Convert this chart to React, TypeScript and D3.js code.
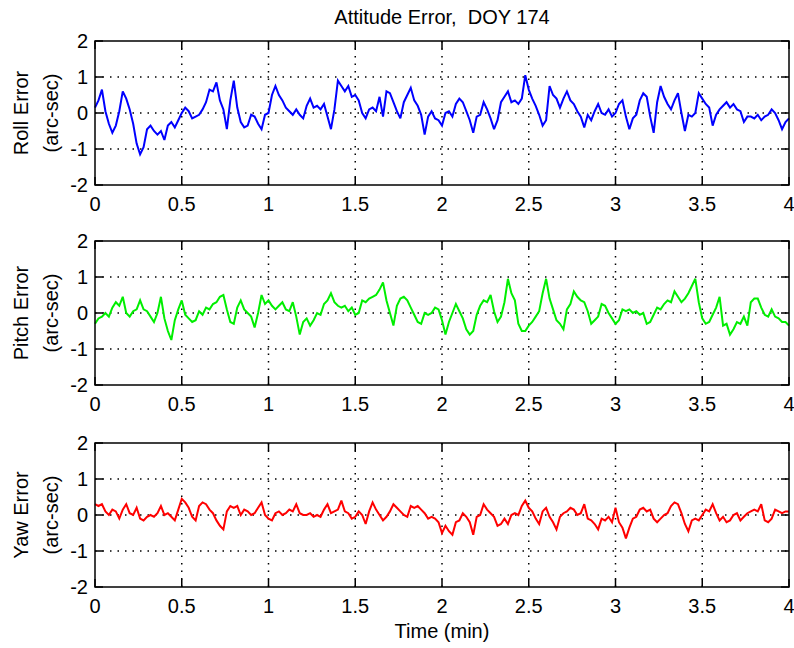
import * as React from 'react';
import * as d3 from 'd3';

// sample spacing of the recorded attitude errors (minutes)
const SAMPLE_STEP = 0.02;

const rollError = [
  0.15, 0.35, 0.65, 0.05, -0.3, -0.55, -0.35, 0.05, 0.6, 0.4,
  0.1, -0.3, -0.85, -1.15, -0.95, -0.45, -0.35, -0.5, -0.6, -0.5,
  -0.75, -0.35, -0.25, -0.4, -0.2, 0.0, 0.15, 0.05, -0.15, -0.1,
  -0.05, 0.1, 0.3, 0.65, 0.6, 0.85, 0.35, 0.1, -0.45, 0.35,
  0.9, 0.15, -0.25, -0.4, -0.35, -0.05, -0.1, -0.3, -0.45, -0.05,
  0.0, 0.5, 0.75, 0.5, 0.35, 0.15, 0.05, -0.05, 0.1, -0.05,
  -0.15, 0.2, 0.4, 0.15, 0.2, 0.1, 0.25, -0.1, -0.45, 0.1,
  0.9, 0.75, 0.6, 0.75, 0.45, 0.5, 0.35, 0.0, -0.15, 0.1,
  0.15, 0.05, 0.45, -0.1, 0.6, 0.55, 0.3, 0.05, -0.15, 0.3,
  0.5, 0.7, 0.35, 0.2, -0.05, -0.6, -0.1, 0.05, -0.15, -0.2,
  -0.35, 0.0, 0.05, -0.1, 0.25, 0.4, 0.3, 0.05, -0.2, -0.55,
  -0.1, -0.05, 0.3, 0.1, -0.15, -0.45, -0.2, 0.3, 0.45, 0.6,
  0.3, 0.35, 0.25, 0.4, 1.05, 0.65, 0.4, 0.2, -0.05, -0.35,
  -0.2, 0.75, 0.5, 0.4, 0.15, 0.4, 0.6, 0.35, 0.25, 0.05,
  -0.1, -0.4, -0.05, -0.2, 0.05, 0.25, 0.0, -0.05, 0.1, -0.1,
  0.0, 0.25, 0.35, -0.1, -0.45, -0.15, -0.05, 0.35, 0.55, 0.45,
  -0.1, -0.55, 0.3, 0.75, 0.45, 0.25, 0.1, 0.35, 0.55, 0.0,
  -0.5, -0.05, -0.1, 0.0, 0.55, 0.4, 0.25, 0.15, -0.35, -0.05,
  0.1, 0.2, 0.3, 0.15, 0.25, 0.1, 0.05, -0.25, -0.1, -0.1,
  -0.15, -0.05, -0.2, -0.1, -0.05, 0.1, 0.0, -0.2, -0.45, -0.25,
  -0.15,
];

const pitchError = [
  -0.3, -0.15, -0.1, 0.0, -0.1, 0.15, 0.3, 0.2, 0.45, 0.0,
  -0.1, 0.05, 0.1, 0.35, 0.1, 0.05, -0.1, -0.25, 0.0, 0.45,
  -0.15, -0.5, -0.75, -0.2, 0.1, 0.35, -0.05, -0.15, -0.25, -0.2,
  0.05, -0.05, 0.15, 0.1, 0.25, 0.3, 0.45, 0.5, 0.1, -0.25,
  -0.3, 0.15, 0.35, 0.1, 0.0, -0.1, -0.4, 0.0, 0.5, 0.25,
  0.35, 0.2, 0.1, 0.2, 0.3, 0.1, 0.05, 0.3, -0.1, -0.6,
  -0.25, -0.15, -0.35, -0.2, 0.0, -0.05, 0.25, 0.35, 0.55, 0.3,
  0.2, 0.15, 0.2, 0.05, 0.15, -0.05, 0.0, 0.35, 0.3, 0.4,
  0.45, 0.5, 0.65, 0.85, 0.35, 0.0, -0.35, 0.2, 0.4, 0.45,
  0.35, 0.15, -0.05, -0.25, -0.3, 0.0, -0.05, 0.0, 0.15, 0.1,
  -0.2, -0.6, -0.25, 0.0, 0.25, 0.05, -0.15, -0.45, -0.6, -0.5,
  -0.05, 0.2, 0.35, 0.3, 0.5, 0.05, -0.25, -0.1, 0.3, 0.95,
  0.55, 0.35, -0.3, -0.5, -0.5, -0.35, -0.25, -0.1, 0.05, 0.55,
  0.95, 0.4, 0.1, -0.2, -0.3, -0.45, 0.1, 0.25, 0.6, 0.45,
  0.35, 0.3, 0.05, -0.3, -0.2, -0.1, 0.25, 0.2, 0.0, -0.15,
  -0.3, -0.2, 0.1, 0.05, 0.1, 0.0, 0.05, -0.05, 0.0, -0.3,
  -0.25, -0.05, 0.15, 0.1, 0.25, 0.35, 0.3, 0.6, 0.45, 0.3,
  0.4, 0.55, 0.75, 0.95, 0.3, -0.15, -0.3, -0.25, -0.05, 0.15,
  0.45, -0.35, -0.3, -0.6, -0.45, -0.25, -0.3, -0.1, -0.35, 0.3,
  0.4, 0.4, 0.15, -0.05, -0.1, 0.1, -0.1, -0.15, -0.25, -0.25,
  -0.35,
];

const yawError = [
  0.3, 0.25, 0.3, 0.1, 0.0, 0.15, 0.1, -0.1, 0.15, 0.3,
  0.05, 0.0, 0.2, -0.1, -0.15, -0.05, 0.0, -0.05, 0.05, 0.25,
  0.0, 0.05, -0.05, -0.15, 0.15, 0.45, 0.35, 0.2, -0.05, -0.15,
  0.25, 0.35, 0.3, 0.15, 0.05, -0.15, -0.3, -0.4, 0.1, 0.25,
  0.2, 0.25, 0.0, 0.15, 0.1, 0.0, 0.05, 0.2, 0.35, 0.0,
  -0.1, -0.15, 0.05, 0.1, 0.0, 0.05, 0.15, 0.1, 0.3, 0.05,
  0.0, 0.0, 0.05, -0.05, 0.0, -0.05, 0.15, 0.3, 0.05, 0.1,
  0.15, 0.4, 0.1, 0.05, -0.1, -0.05, 0.1, 0.0, -0.25, 0.1,
  0.35, 0.15, 0.0, -0.15, -0.05, 0.1, 0.3, 0.2, 0.1, 0.0,
  -0.05, 0.25, 0.2, 0.25, 0.15, 0.05, -0.1, -0.05, -0.1, -0.2,
  -0.5, -0.3, -0.45, -0.55, -0.2, -0.15, 0.05, -0.05, -0.2, -0.55,
  -0.05, 0.0, 0.3, 0.15, 0.05, -0.05, -0.3, -0.25, -0.1, -0.25,
  0.0, 0.05, 0.0, 0.25, 0.4, 0.2, 0.1, -0.1, -0.25, 0.1,
  0.2, -0.05, -0.2, -0.4, -0.05, 0.05, 0.1, 0.2, 0.15, 0.0,
  0.05, 0.3, -0.1, -0.15, -0.25, -0.4, -0.1, -0.15, -0.05, -0.2,
  0.2, -0.2, -0.35, -0.65, -0.35, -0.1, -0.05, 0.15, 0.2, 0.1,
  0.15, -0.1, -0.2, -0.1, 0.0, 0.05, 0.25, 0.35, 0.3, 0.05,
  -0.25, -0.45, -0.15, -0.1, -0.15, 0.0, 0.15, 0.1, 0.3, 0.05,
  -0.15, -0.05, -0.2, -0.15, 0.0, 0.05, -0.15, -0.05, 0.05, 0.1,
  0.15, 0.1, 0.3, -0.15, -0.2, -0.1, 0.15, 0.1, 0.05, 0.1,
  0.1,
];

const xTicks = [0, 0.5, 1, 1.5, 2, 2.5, 3, 3.5, 4];
const yTicks = [-2, -1, 0, 1, 2];

const panels = [
  { label: 'Roll Error', values: rollError, color: '#0000ff' },
  { label: 'Pitch Error', values: pitchError, color: '#00ee00' },
  { label: 'Yaw Error', values: yawError, color: '#ff0000' },
];

const W = 794;
const H = 648;
const left = 95;
const right = 789;
const panelTops = [41, 241, 443];
const panelH = 144;
const font = "'Liberation Sans', Arial, sans-serif";
const fs = 20;

function Panel({ top, label, values, color, showXLabel }: any) {
  const x = d3.scaleLinear().domain([0, 4]).range([left, right]);
  const y = d3.scaleLinear().domain([-2, 2]).range([top + panelH, top]);
  const line = d3
    .line<number>()
    .x((_d, i) => x(i * SAMPLE_STEP))
    .y((d) => y(d));
  const bottom = top + panelH;
  const midY = top + panelH / 2;

  return (
    <g>
      {/* dotted grid */}
      {xTicks.slice(1, -1).map((t) => (
        <line key={'gx' + t} x1={x(t)} x2={x(t)} y1={top} y2={bottom}
          stroke="#000" strokeWidth={1.5} strokeDasharray="1.5 6" />
      ))}
      {yTicks.slice(1, -1).map((v) => (
        <line key={'gy' + v} x1={left} x2={right} y1={y(v)} y2={y(v)}
          stroke="#000" strokeWidth={1.5} strokeDasharray="1.5 6" />
      ))}
      <path d={line(values) ?? ''} fill="none" stroke={color} strokeWidth={2}
        strokeLinejoin="miter" strokeMiterlimit={3} />
      {/* ticks inside the box */}
      {xTicks.map((t) => (
        <g key={'tx' + t}>
          <line x1={x(t)} x2={x(t)} y1={bottom} y2={bottom - 8} stroke="#000" strokeWidth={1.5} />
          <line x1={x(t)} x2={x(t)} y1={top} y2={top + 8} stroke="#000" strokeWidth={1.5} />
          <text x={x(t)} y={bottom + 26} textAnchor="middle" fontSize={fs}>{t}</text>
        </g>
      ))}
      {yTicks.map((v) => (
        <g key={'ty' + v}>
          <line x1={left} x2={left + 8} y1={y(v)} y2={y(v)} stroke="#000" strokeWidth={1.5} />
          <line x1={right} x2={right - 8} y1={y(v)} y2={y(v)} stroke="#000" strokeWidth={1.5} />
          <text x={88} y={y(v)} dy="0.36em" textAnchor="end" fontSize={fs}>{v}</text>
        </g>
      ))}
      <rect x={left} y={top} width={right - left} height={panelH} fill="none"
        stroke="#000" strokeWidth={1.5} />
      <text transform={`translate(21,${midY}) rotate(-90)`} textAnchor="middle"
        dy="0.35em" fontSize={fs}>{label}</text>
      <text transform={`translate(51,${midY}) rotate(-90)`} textAnchor="middle"
        dy="0.35em" fontSize={fs}>(arc-sec)</text>
      {showXLabel && (
        <text x={(left + right) / 2} y={bottom + 51} textAnchor="middle" fontSize={fs}>
          Time (min)
        </text>
      )}
    </g>
  );
}

export default function App() {
  return (
    <svg width={W} height={H} viewBox={`0 0 ${W} ${H}`}
      style={{ position: 'absolute', left: 0, top: 0, background: '#fff', fontFamily: font }}>
      <rect width={W} height={H} fill="#fff" />
      <text x={(left + right) / 2} y={24} textAnchor="middle" fontSize={fs}>
        {'Attitude Error,\u00a0 DOY 174'}
      </text>
      {panels.map((p, i) => (
        <Panel key={p.label} top={panelTops[i]} label={p.label} values={p.values}
          color={p.color} showXLabel={i === 2} />
      ))}
    </svg>
  );
}
